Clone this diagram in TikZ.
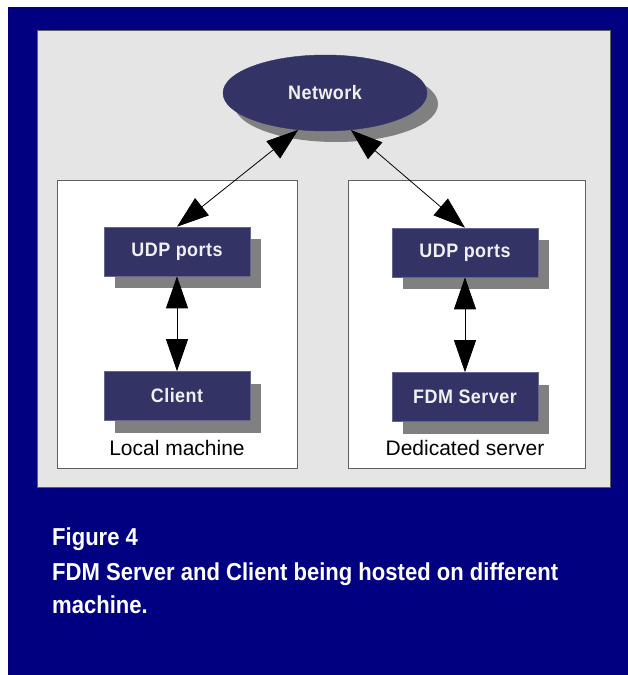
\documentclass[tikz,border=0pt]{standalone}
\usepackage{fontspec}
\setmainfont{Liberation Sans}
\newfontfamily\capfont[FakeStretch=0.90]{Liberation Sans}
\newfontfamily\nodefont[FakeStretch=0.92,LetterSpace=2.5]{Liberation Sans}
\usetikzlibrary{arrows.meta,shapes.geometric,shadows}
\definecolor{navy}{HTML}{000080}
\definecolor{slate}{HTML}{333366}
\definecolor{panelgray}{HTML}{E5E5E5}
\definecolor{shadowgray}{HTML}{808080}
\definecolor{framegray}{HTML}{606060}
\begin{document}
\begin{tikzpicture}[x=1pt,y=-1pt,
  portbox/.style={rectangle, fill=slate, draw=slate!75!white, line width=0.6pt,
    minimum width=146pt, minimum height=49pt, inner sep=0pt,
    text=white!94!black, font=\nodefont\bfseries\fontsize{19.5}{21}\selectfont,
    drop shadow={shadow xshift=11pt, shadow yshift=-12pt, fill=shadowgray, opacity=1}},
  netshape/.style={ellipse, fill=slate, draw=slate, inner sep=0pt,
    minimum width=204pt, minimum height=76pt,
    text=white!94!black, font=\nodefont\bfseries\fontsize{19.5}{21}\selectfont,
    drop shadow={shadow xshift=11pt, shadow yshift=-11pt, fill=shadowgray, opacity=1}},
  machinebox/.style={draw=framegray, fill=white, line width=0.7pt},
  biarr/.style={{Triangle[length=32pt,width=22pt]}-{Triangle[length=32pt,width=22pt]}, line width=0.8pt},
  lbltxt/.style={anchor=base, inner sep=0pt, font=\fontsize{21}{24}\selectfont},
  captxt/.style={anchor=base west, inner sep=0pt, text=white, font=\capfont\bfseries\fontsize{24.5}{28}\selectfont}
]
\useasboundingbox (0,0) rectangle (628,675);
\fill[white] (0,0) rectangle (628,675);
\fill[navy] (8,7) rectangle (628,675);
\filldraw[fill=panelgray, draw=framegray, line width=0.8pt] (37,30) rectangle (610,487);
\filldraw[machinebox] (57,180) rectangle (297,468);
\filldraw[machinebox] (348,180) rectangle (585,468);

\node[netshape] (net) at (325,93) {Network};
\node[portbox] (udpL) at (177,251.5) {UDP ports};
\node[portbox] (client) at (177,396) {Client};
\node[portbox] (udpR) at (465,252.5) {UDP ports};
\node[portbox] (server) at (465,397) {FDM Server};

\draw[biarr] (net.234) -- (udpL.north);
\draw[biarr] (net.305) -- (udpR.north);
\draw[biarr] (udpL.south) -- (client.north);
\draw[biarr] (udpR.south) -- (server.north);

\node[lbltxt] (lblL) at (177,455) {Local machine};
\node[lbltxt] (lblR) at (465,455) {Dedicated server};

\node[captxt] (cap1) at (52,545) {Figure 4};
\node[captxt] (cap2) at (52,580) {FDM Server and Client being hosted on different};
\node[captxt] (cap3) at (52,613) {machine.};
\end{tikzpicture}
\end{document}
